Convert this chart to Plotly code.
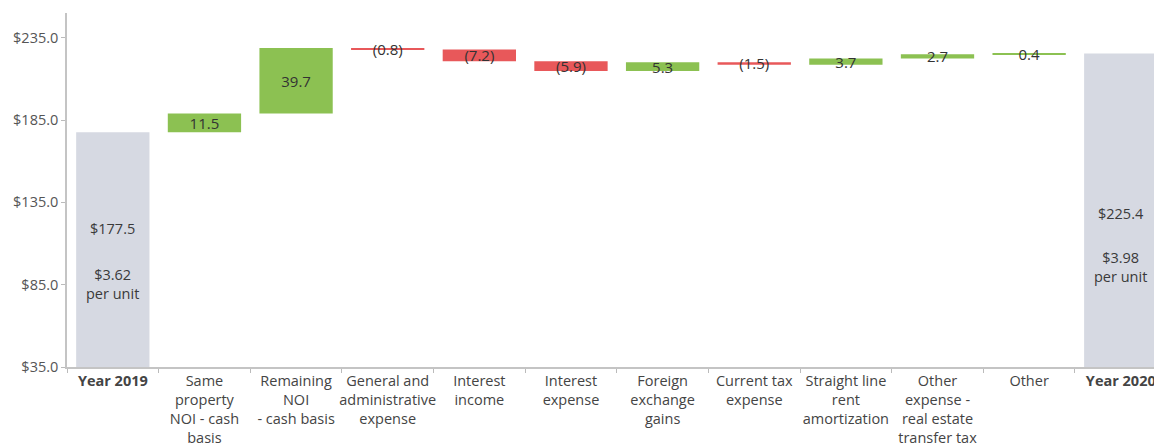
import plotly.graph_objects as go

categories = ["Year 2019", "Same property NOI - cash basis", "Remaining NOI - cash basis",
              "General and administrative expense", "Interest income", "Interest expense",
              "Foreign exchange gains", "Current tax expense", "Straight line rent amortization",
              "Other expense - real estate transfer tax", "Other", "Year 2020"]
tick_labels = ["<b>Year 2019</b>", "Same<br>property<br>NOI - cash<br>basis", "Remaining<br>NOI<br>- cash basis",
               "General and<br>administrative<br>expense", "Interest<br>income", "Interest<br>expense",
               "Foreign<br>exchange<br>gains", "Current tax<br>expense", "Straight line<br>rent<br>amortization",
               "Other<br>expense -<br>real estate<br>transfer tax", "Other", "<b>Year 2020</b>"]
values = [177.5, 11.5, 39.7, -0.8, -7.2, -5.9, 5.3, -1.5, 3.7, 2.7, 0.4, 225.4]
measures = ["absolute"] + ["relative"] * 10 + ["total"]
per_unit = {"Year 2019": "$3.62<br>per unit", "Year 2020": "$3.98<br>per unit"}
y_ticks = [35, 85, 135, 185, 235]

# label placement (fraction of bar value) for the total bars - styling only
label_frac = {"Year 2019": (0.67, 0.48), "Year 2020": (0.57, 0.425)}

texts = []
for m, v in zip(measures, values):
    if m != "relative":
        texts.append("")
    elif v < 0:
        texts.append(f"({abs(v):.1f})")
    else:
        texts.append(f"{v:.1f}")

GREEN = "#8cc152"
RED = "#e8585a"
GRAY = "#d6d9e2"
FONT = "Open Sans"

fig = go.Figure(go.Waterfall(
    x=categories, y=values, measure=measures,
    text=texts, textposition="inside", textangle=0, constraintext="none",
    insidetextanchor="middle",
    textfont=dict(family=FONT, size=15, color="#333"),
    increasing=dict(marker=dict(color=GREEN)),
    decreasing=dict(marker=dict(color=RED)),
    totals=dict(marker=dict(color=GRAY)),
    connector=dict(visible=False),
    hoverinfo="skip",
))

annotations = []
for cat, v, m in zip(categories, values, measures):
    if m == "relative":
        continue
    f1, f2 = label_frac[cat]
    annotations.append(dict(x=cat, y=v * f1, text=f"${v:.1f}", showarrow=False,
                            font=dict(family=FONT, size=14.5, color="#3a3a3a")))
    annotations.append(dict(x=cat, y=v * f2, text=per_unit[cat], showarrow=False,
                            font=dict(family=FONT, size=14.5, color="#3a3a3a")))

fig.update_layout(
    width=1154, height=447,
    margin=dict(l=59, r=0, t=5, b=88, autoexpand=False),
    plot_bgcolor="white", paper_bgcolor="white",
    bargap=0.15, showlegend=False,
    annotations=annotations,
    font=dict(family=FONT, size=14, color="#444"),
)
fig.update_xaxes(
    tickmode="array", tickvals=categories, ticktext=tick_labels, tickangle=0,
    automargin=False,
    tickson="boundaries", ticks="outside", ticklen=4, tickcolor="#bbb",
    showline=True, linecolor="#c4c4c4", linewidth=1.5,
    tickfont=dict(family=FONT, size=14.5, color="#444"),
    showgrid=False, range=[-0.5, 11.45],
)
fig.update_yaxes(
    range=[35, 250], tickvals=y_ticks, tickformat="$.1f", automargin=False,
    ticks="outside", ticklen=4, tickcolor="#bbb",
    showline=True, linecolor="#c4c4c4", linewidth=1.5,
    showgrid=False, zeroline=False,
    tickfont=dict(family=FONT, size=14.5, color="#555"),
)

fig.write_html("out.html")
